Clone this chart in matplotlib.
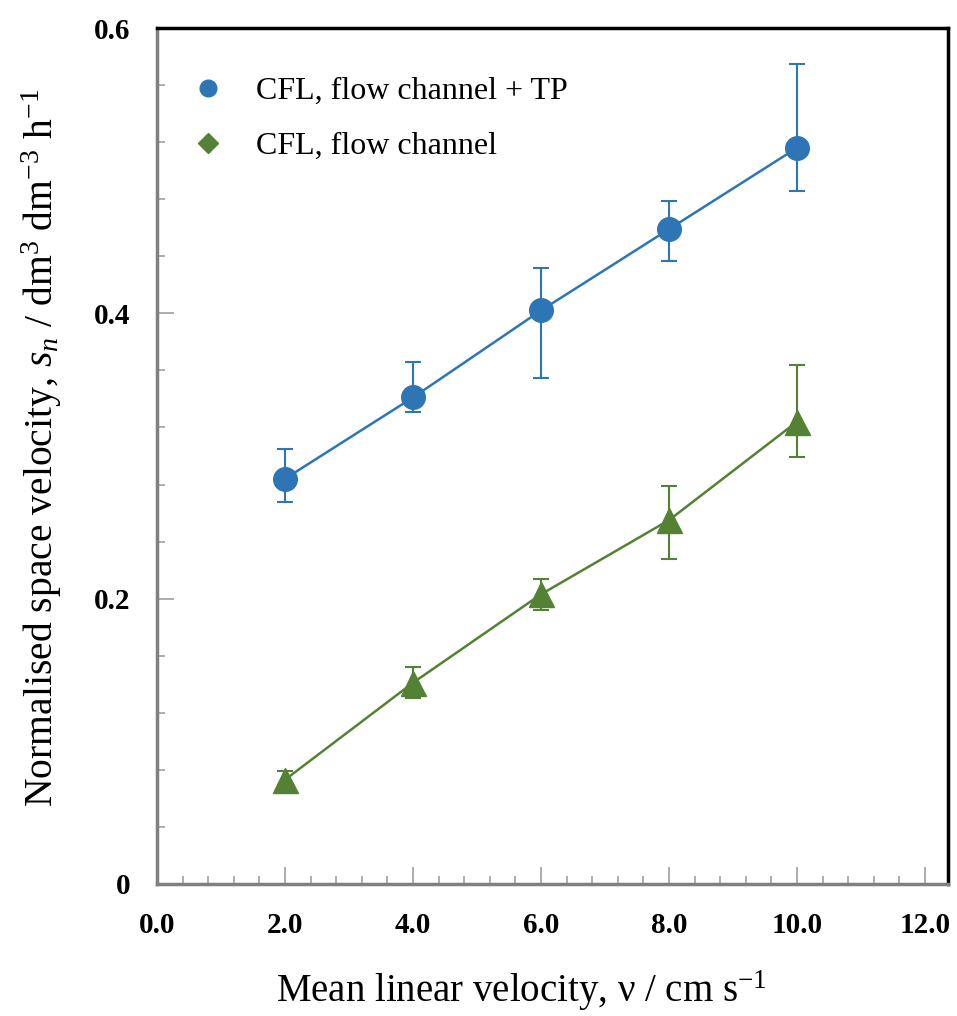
import numpy as np
import matplotlib
matplotlib.use('Agg')
from matplotlib import pyplot as plt
from matplotlib.lines import Line2D
from matplotlib.ticker import MultipleLocator

plt.rcParams['font.family'] = ['Liberation Serif', 'DejaVu Serif']
plt.rcParams['mathtext.fontset'] = 'custom'
plt.rcParams['mathtext.rm'] = 'Liberation Serif'
plt.rcParams['mathtext.it'] = 'Liberation Serif:italic'

# mean linear velocity, cm/s
velocity = [2.0, 4.0, 6.0, 8.0, 10.0]

# CFL, flow channel + TP
sv_tp = [0.284, 0.341, 0.402, 0.459, 0.516]
sv_tp_hi = [0.305, 0.366, 0.432, 0.479, 0.575]
sv_tp_lo = [0.268, 0.331, 0.355, 0.437, 0.486]

# CFL, flow channel
sv_fc = [0.073, 0.141, 0.203, 0.255, 0.324]
sv_fc_hi = [0.079, 0.152, 0.214, 0.279, 0.364]
sv_fc_lo = [0.069, 0.130, 0.192, 0.228, 0.299]

xticks = [0, 2, 4, 6, 8, 10, 12]
yticks = [0, 0.2, 0.4, 0.6]
ytick_labels = ['0', '0.2', '0.4', '0.6']

blue = '#2E75B6'
green = '#548235'

fig = plt.figure(figsize=(9.57, 10.16), dpi=100)
ax = fig.add_axes([0.164, 0.13, 0.8266, 0.8424])

def err(y, hi, lo):
    y = np.array(y)
    return [y - np.array(lo), np.array(hi) - y]

ax.errorbar(velocity, sv_tp, yerr=err(sv_tp, sv_tp_hi, sv_tp_lo), color=blue,
            marker='o', markersize=17, lw=1.8, elinewidth=1.5, capsize=6, capthick=1.5)
ax.errorbar(velocity, sv_fc, yerr=err(sv_fc, sv_fc_hi, sv_fc_lo), color=green,
            marker='^', markersize=18, lw=1.8, elinewidth=1.5, capsize=6, capthick=1.5)

ax.set_xlim(0, 12.36)
ax.set_ylim(0, 0.6)
ax.set_xticks(xticks)
ax.set_xticklabels(['%.1f' % v for v in xticks])
ax.set_yticks(yticks)
ax.set_yticklabels(ytick_labels)
ax.xaxis.set_minor_locator(MultipleLocator(0.4))
ax.yaxis.set_minor_locator(MultipleLocator(0.04))

ax.tick_params(which='both', direction='in', color='#a0a0a0', top=False, right=False)
ax.tick_params(which='major', length=12, width=1.2)
ax.tick_params(which='minor', length=6, width=1.2)
ax.tick_params(axis='x', pad=20, labelsize=21)
ax.tick_params(axis='y', pad=19, labelsize=21)
for lab in ax.get_xticklabels() + ax.get_yticklabels():
    lab.set_fontweight('bold')

for side in ['left', 'bottom']:
    ax.spines[side].set_color('#808080')
    ax.spines[side].set_linewidth(2.5)
for side in ['top', 'right']:
    ax.spines[side].set_color('black')
    ax.spines[side].set_linewidth(2.5)

ax.set_xlabel('Mean linear velocity, ν / cm s$^{-1}$', fontsize=28)
ax.xaxis.set_label_coords(0.461, -0.099)
ax.set_ylabel('Normalised space velocity, $s_n$ / dm$^3$ dm$^{-3}$ h$^{-1}$',
              fontsize=28.5)
ax.yaxis.set_label_coords(-0.117, 0.51)

handles = [
    Line2D([], [], ls='none', marker='o', color=blue, markersize=12),
    Line2D([], [], ls='none', marker='D', color=green, markersize=10),
]
ax.legend(handles, ['CFL, flow channel + TP', 'CFL, flow channel'],
          loc='upper left', bbox_to_anchor=(-0.012, 0.977), frameon=False,
          fontsize=23, labelspacing=0.8, handletextpad=0.5)

plt.savefig('out.png', dpi=100)
